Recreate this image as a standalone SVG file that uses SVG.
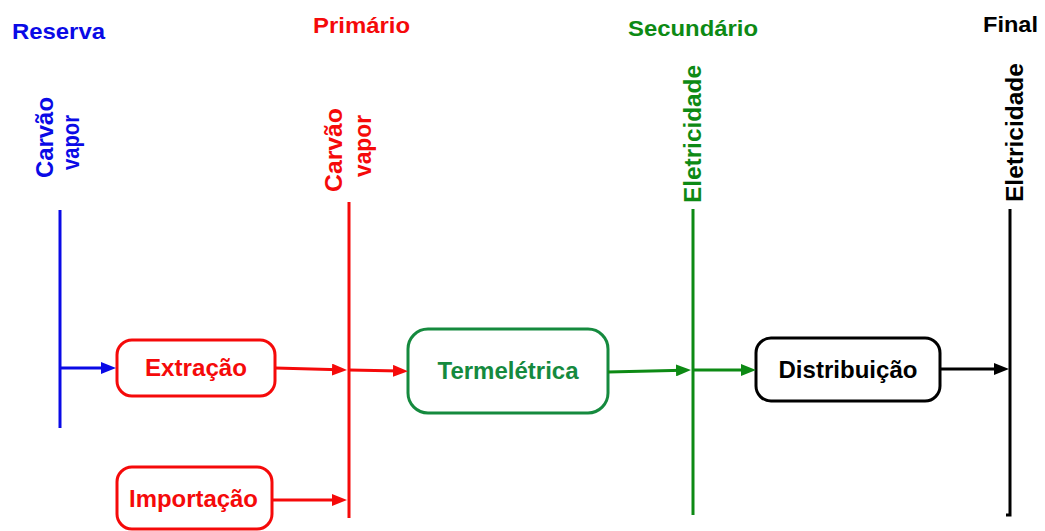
<svg xmlns="http://www.w3.org/2000/svg" width="1045" height="531" viewBox="0 0 1045 531">
<style>
text{font-family:"Liberation Sans",Arial,sans-serif;font-weight:bold;}
.t{font-size:22px;}
.b{font-size:24px;text-anchor:middle;}
.v{font-size:23.5px;text-anchor:middle;}
.bar{fill:none;stroke-width:3;}
.box{fill:#fff;stroke-width:3;}
.c{fill:none;stroke-width:3;}
.blue{fill:#0a0ae6;}
.red{fill:#f50a0a;}
.grn{fill:#0d8a14;}
.tg{fill:#158a3e;}
.blk{fill:#000;}
</style>
<defs>
<marker id="aB" viewBox="0 0 15 12" refX="7" refY="6" markerWidth="15" markerHeight="12" markerUnits="userSpaceOnUse" orient="auto"><path d="M0,0L15,6L0,12z" fill="#0a0ae6"/></marker>
<marker id="aR" viewBox="0 0 15 12" refX="7" refY="6" markerWidth="15" markerHeight="12" markerUnits="userSpaceOnUse" orient="auto"><path d="M0,0L15,6L0,12z" fill="#f50a0a"/></marker>
<marker id="aG" viewBox="0 0 15 12" refX="7" refY="6" markerWidth="15" markerHeight="12" markerUnits="userSpaceOnUse" orient="auto"><path d="M0,0L15,6L0,12z" fill="#0d8a14"/></marker>
<marker id="aK" viewBox="0 0 15 12" refX="7" refY="6" markerWidth="15" markerHeight="12" markerUnits="userSpaceOnUse" orient="auto"><path d="M0,0L15,6L0,12z" fill="#000"/></marker>
</defs>
<rect width="1045" height="531" fill="#fff"/>

<g id="reserva">
<text class="t blue" x="12" y="39" textLength="93" lengthAdjust="spacingAndGlyphs">Reserva</text>
<text class="v blue" x="53" y="137.5" transform="rotate(-90 53 137.5)" textLength="81" lengthAdjust="spacingAndGlyphs">Carvão</text>
<text class="v blue" x="79" y="142.5" transform="rotate(-90 79 142.5)" textLength="55" lengthAdjust="spacingAndGlyphs">vapor</text>
<path class="bar" stroke="#0a0ae6" d="M60,210V428"/>
</g>

<g id="primario">
<text class="t red" x="313" y="33" textLength="97" lengthAdjust="spacingAndGlyphs">Primário</text>
<text class="v red" x="342" y="150" transform="rotate(-90 342 150)" textLength="84" lengthAdjust="spacingAndGlyphs">Carvão</text>
<text class="v red" x="371" y="146" transform="rotate(-90 371 146)" textLength="62" lengthAdjust="spacingAndGlyphs">vapor</text>
<path class="bar" stroke="#f50a0a" d="M349,202V518"/>
</g>

<g id="secundario">
<text class="t grn" x="628" y="36" textLength="130" lengthAdjust="spacingAndGlyphs">Secundário</text>
<text class="v grn" x="701" y="134" transform="rotate(-90 701 134)" textLength="138" lengthAdjust="spacingAndGlyphs">Eletricidade</text>
<path class="bar" stroke="#0d8a14" d="M693,209V515"/>
</g>

<g id="final">
<text class="t blk" x="983" y="32" textLength="55" lengthAdjust="spacingAndGlyphs">Final</text>
<text class="v blk" x="1023" y="132.5" transform="rotate(-90 1023 132.5)" textLength="139" lengthAdjust="spacingAndGlyphs">Eletricidade</text>
<path class="bar" stroke="#000" d="M1010,209V515H1006"/>
</g>

<g id="extracao">
<rect class="box" stroke="#f50a0a" x="117" y="340" width="158" height="56" rx="15"/>
<text class="b red" x="196" y="376" textLength="102" lengthAdjust="spacingAndGlyphs">Extração</text>
</g>

<g id="importacao">
<rect class="box" stroke="#f50a0a" x="117" y="467" width="155" height="62" rx="15"/>
<text class="b red" x="193.5" y="507" textLength="129" lengthAdjust="spacingAndGlyphs">Importação</text>
</g>

<g id="termeletrica">
<rect class="box" stroke="#158a3e" x="408" y="329" width="200" height="84" rx="20"/>
<text class="b tg" x="508" y="379" textLength="141" lengthAdjust="spacingAndGlyphs">Termelétrica</text>
</g>

<g id="distribuicao">
<rect class="box" stroke="#000" x="756" y="338" width="184" height="63" rx="15"/>
<text class="b blk" x="848" y="378" textLength="139" lengthAdjust="spacingAndGlyphs">Distribuição</text>
</g>

<g id="connectors">
<path class="c" stroke="#0a0ae6" d="M60,368H108" marker-end="url(#aB)"/>
<path class="c" stroke="#f50a0a" d="M275,368L339,369.8" marker-end="url(#aR)"/>
<path class="c" stroke="#f50a0a" d="M349,370L400,371" marker-end="url(#aR)"/>
<path class="c" stroke="#f50a0a" d="M272,500H339" marker-end="url(#aR)"/>
<path class="c" stroke="#0d8a14" d="M608,372L683,370.2" marker-end="url(#aG)"/>
<path class="c" stroke="#0d8a14" d="M693,370H748" marker-end="url(#aG)"/>
<path class="c" stroke="#000" d="M940,369H1001" marker-end="url(#aK)"/>
</g>
</svg>
